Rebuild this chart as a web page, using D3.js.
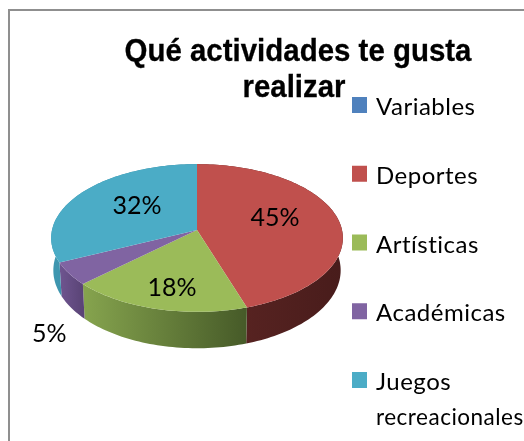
<!DOCTYPE html>
<meta charset="utf-8">
<style>
html, body { margin: 0; padding: 0; background: #fff; overflow: hidden; }
svg { display: block; filter: blur(0.4px); }
.title { font-family: "Liberation Sans", sans-serif; font-weight: bold; font-size: 32px; fill: #000; stroke: #000; stroke-width: 0.3px; }
.label { font-family: Lato, sans-serif; font-size: 25px; fill: #000; }
.legend text { font-family: Lato, sans-serif; font-size: 24px; fill: #000; letter-spacing: 0.5px; }
</style>
<svg width="524" height="441"></svg>
<script src="https://d3js.org/d3.v7.min.js"></script>
<script>

var categories = ["Variables", "Deportes", "Artísticas", "Académicas", "Juegos recreacionales"];
var values = [0, 45, 18, 5, 32];
var colors = ["#4f81bd", "#c0504d", "#9bbb59", "#8064a2", "#4bacc6"];
var wallStart = ["#3d6490", "#5e2624", "#86a44e", "#6f5590", "#3f97b0"];
var wallEnd = ["#2c4a6c", "#481c1b", "#465a28", "#5a4476", "#2f7d95"];
var titleLines = ["Qué actividades te gusta", "realizar"];

// pixel nudges of the percent labels, from the point at 60% of the radius
var labelNudge = [[0, 0], [-7, 3], [-2, 21], [-73, 86], [11, 7]];

var svg = d3.select("svg");

var apex = [197, 230],
    radius = 145,
    squash = 73,
    persp = 0.108,
    depth = 32;

// circle on the table seen in perspective: apex sits above the ellipse middle
function project(a, f) {
  var u = Math.sin(a) * f,
      v = -Math.cos(a) * f,
      w = 1 - persp * v;
  return [apex[0] + radius * u / w, apex[1] + squash * v / w];
}

var pie = d3.pie().sort(null)(values);
var line = d3.line();

function rim(d) {
  var n = Math.max(2, Math.ceil((d.endAngle - d.startAngle) * 40));
  return d3.range(n + 1).map(function(i) {
    return project(d.startAngle + (d.endAngle - d.startAngle) * i / n, 1);
  });
}

// bottom edge of the wall: a bit narrower, deeper towards the viewer
function drop(p) {
  var w = 1 - persp * (p[1] - apex[1]) / squash;
  return [apex[0] + (p[0] - apex[0]) * 0.985, p[1] + depth / w];
}

// frame
svg.append("path")
    .attr("d", line([[9, 441], [9, 10], [524, 10]]))
    .attr("fill", "none")
    .attr("stroke", "#8f8f8f")
    .attr("stroke-width", 2);

var defs = svg.append("defs");
var slices = pie.filter(function(d) { return d.value > 0; });

slices.forEach(function(d) {
  var xs = d3.extent(rim(d), function(p) { return p[0]; });
  var grad = defs.append("linearGradient")
      .attr("id", "wall" + d.index)
      .attr("gradientUnits", "userSpaceOnUse")
      .attr("x1", xs[0]).attr("x2", xs[1])
      .attr("y1", 0).attr("y2", 0);
  grad.append("stop").attr("offset", 0).attr("stop-color", wallStart[d.index]);
  grad.append("stop").attr("offset", 1).attr("stop-color", wallEnd[d.index]);
});

var pieG = svg.append("g");

// side walls first, the top faces cover whatever is at the back
pieG.selectAll(".wall")
  .data(slices)
  .enter().append("path")
    .attr("class", "wall")
    .attr("fill", function(d) { return "url(#wall" + d.index + ")"; })
    .attr("d", function(d) {
      var top = rim(d);
      return line(top.concat(top.map(drop).reverse())) + "Z";
    });

pieG.selectAll(".face")
  .data(slices)
  .enter().append("path")
    .attr("class", "face")
    .attr("fill", function(d) { return colors[d.index]; })
    .attr("d", function(d) { return line([apex].concat(rim(d))) + "Z"; });

svg.selectAll(".label")
  .data(slices)
  .enter().append("text")
    .attr("class", "label")
    .attr("text-anchor", "middle")
    .attr("x", function(d) {
      return project((d.startAngle + d.endAngle) / 2, 0.6)[0] + labelNudge[d.index][0];
    })
    .attr("y", function(d) {
      return project((d.startAngle + d.endAngle) / 2, 0.6)[1] + labelNudge[d.index][1];
    })
    .text(function(d) { return d3.format(".0f")(d.value) + "%"; });

svg.selectAll(".title")
  .data(titleLines)
  .enter().append("text")
    .attr("class", "title")
    .attr("text-anchor", "middle")
    .attr("x", function(d, i) { return i ? 294 : 298; })
    .attr("y", function(d, i) { return 61 + i * 36; })
    .text(function(d) { return d; })
    .attr("lengthAdjust", "spacingAndGlyphs")
    .attr("textLength", function(d, i) { return i ? 103 : 347; });

// legend
var rowY = d3.scalePoint().domain(categories).range([105, 380]);

var legend = svg.append("g").attr("class", "legend");

var rows = legend.selectAll("g")
  .data(categories)
  .enter().append("g")
    .attr("transform", function(d) { return "translate(352," + rowY(d) + ")"; });

rows.append("rect")
    .attr("y", -8)
    .attr("width", 15)
    .attr("height", 16)
    .attr("fill", function(d, i) { return colors[i]; });

// one text per line, the long word is shrunk to stay inside the window
rows.each(function(d) {
  var row = d3.select(this);
  d.split(" ").forEach(function(w, i) {
    var text = row.append("text")
        .attr("x", 24)
        .attr("y", 10 + i * 35)
        .text(w);
    if (text.node().getComputedTextLength() > 142) {
      text.style("font-size", "22.5px");
    }
  });
});

</script>
